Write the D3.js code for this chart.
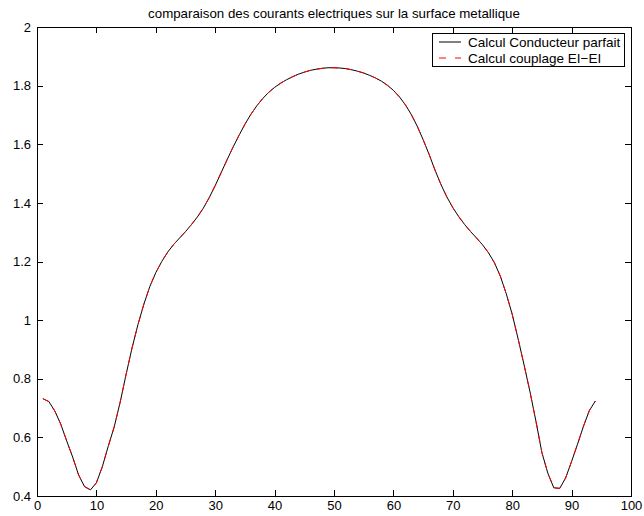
<!DOCTYPE html>
<html>
<head>
<meta charset="utf-8">
<script src="https://cdn.jsdelivr.net/npm/d3@7"></script>
<style>
  body { margin: 0; background: #fff; }
  text { font-family: "Liberation Sans", Arial, sans-serif; }
</style>
</head>
<body>
<div id="chart-container"></div>
<script>
var titre = "comparaison des courants electriques sur la surface metallique"
var nomsSeries = ["Calcul Conducteur parfait", "Calcul couplage EI\u2212EI"]
var xTicks = [0, 10, 20, 30, 40, 50, 60, 70, 80, 90, 100]
var yTicks = [0.4, 0.6, 0.8, 1, 1.2, 1.4, 1.6, 1.8, 2]
var yTickLabels = ["0.4", "0.6", "0.8", "1", "1.2", "1.4", "1.6", "1.8", "2"]

var indices = d3.range(1, 95)
var courantParfait = [
  0.732, 0.722, 0.690, 0.645, 0.588, 0.533, 0.472, 0.432, 0.421, 0.445,
  0.500, 0.570, 0.636, 0.720, 0.815, 0.905, 0.985, 1.055, 1.115, 1.162,
  1.200, 1.232, 1.258, 1.280, 1.302, 1.326, 1.352, 1.382, 1.418, 1.459,
  1.503, 1.547, 1.590, 1.630, 1.668, 1.702, 1.731, 1.756, 1.777, 1.794,
  1.808, 1.820, 1.830, 1.839, 1.846, 1.852, 1.856, 1.859, 1.861, 1.861,
  1.860, 1.858, 1.854, 1.849, 1.843, 1.835, 1.826, 1.815, 1.801, 1.784,
  1.762, 1.735, 1.702, 1.662, 1.616, 1.566, 1.512, 1.463, 1.420, 1.384,
  1.353, 1.326, 1.302, 1.280, 1.257, 1.230, 1.196, 1.150, 1.090, 1.020,
  0.936, 0.847, 0.755, 0.655, 0.548, 0.478, 0.428, 0.426, 0.462, 0.518,
  0.577, 0.638, 0.692, 0.724]
var courantCouplage = [
  0.732, 0.722, 0.690, 0.645, 0.588, 0.533, 0.472, 0.432, 0.421, 0.445,
  0.500, 0.570, 0.636, 0.720, 0.815, 0.905, 0.985, 1.055, 1.115, 1.162,
  1.200, 1.232, 1.258, 1.280, 1.302, 1.326, 1.352, 1.382, 1.418, 1.459,
  1.503, 1.547, 1.590, 1.630, 1.668, 1.702, 1.731, 1.756, 1.777, 1.794,
  1.808, 1.820, 1.830, 1.839, 1.846, 1.852, 1.856, 1.859, 1.861, 1.861,
  1.860, 1.858, 1.854, 1.849, 1.843, 1.835, 1.826, 1.815, 1.801, 1.784,
  1.762, 1.735, 1.702, 1.662, 1.616, 1.566, 1.512, 1.463, 1.420, 1.384,
  1.353, 1.326, 1.302, 1.280, 1.257, 1.230, 1.196, 1.150, 1.090, 1.020,
  0.936, 0.847, 0.755, 0.655, 0.548, 0.478, 0.428, 0.426, 0.462, 0.518,
  0.577, 0.638, 0.692, 0.724]

var W = 644, H = 516
var mLeft = 37, mRight = 631, mTop = 27, mBottom = 496

var svg = d3.select("#chart-container").append("svg").attr("width", W).attr("height", H)

var x = d3.scaleLinear().domain([0, 100]).range([mLeft, mRight])
var y = d3.scaleLinear().domain([0.4, 2]).range([mBottom, mTop])

function styleAxis(g) {
  g.selectAll("path, line").attr("stroke", "#000").attr("shape-rendering", "crispEdges")
  g.selectAll("text").attr("fill", "#000").style("font-size", "13px")
}

svg.append("g").attr("transform", "translate(0," + mBottom + ")")
  .call(d3.axisBottom(x).tickValues(xTicks).tickSize(-6).tickSizeOuter(0).tickPadding(5))
  .call(styleAxis)
svg.append("g").attr("transform", "translate(0," + mTop + ")")
  .call(d3.axisTop(x).tickValues(xTicks).tickSize(-6).tickSizeOuter(0).tickFormat(""))
  .call(styleAxis)
svg.append("g").attr("transform", "translate(" + mLeft + ",0)")
  .call(d3.axisLeft(y).tickValues(yTicks).tickSize(-6).tickSizeOuter(0).tickPadding(6)
    .tickFormat(function(d, i) { return yTickLabels[i] }))
  .call(styleAxis)
svg.append("g").attr("transform", "translate(" + mRight + ",0)")
  .call(d3.axisRight(y).tickValues(yTicks).tickSize(-6).tickSizeOuter(0).tickFormat(""))
  .call(styleAxis)

var line = d3.line().x(function(d) { return x(d[0]) }).y(function(d) { return y(d[1]) })

svg.append("path").datum(d3.zip(indices, courantParfait))
  .attr("d", line).attr("fill", "none").attr("stroke", "#000").attr("stroke-width", 1)
svg.append("path").datum(d3.zip(indices, courantCouplage))
  .attr("d", line).attr("fill", "none").attr("stroke", "#ff0000").attr("stroke-width", 1)
  .attr("stroke-dasharray", "7,7")

svg.append("text").attr("x", (mLeft + mRight) / 2).attr("y", 18)
  .attr("text-anchor", "middle").style("font-size", "13.3px").text(titre)

// legende
var leg = svg.append("g")
leg.append("rect").attr("x", 432.5).attr("y", 33.5).attr("width", 192).attr("height", 33)
  .attr("fill", "#fff").attr("stroke", "#000").attr("stroke-width", 1)
var styles = [{ c: "#000", d: null }, { c: "#ff0000", d: "7,9" }]
nomsSeries.forEach(function(nom, i) {
  var yy = 42 + i * 16
  leg.append("line").attr("x1", 439).attr("x2", 461).attr("y1", yy).attr("y2", yy)
    .attr("stroke", styles[i].c).attr("stroke-dasharray", styles[i].d)
  leg.append("text").attr("x", 468).attr("y", yy + 4.5).style("font-size", "13.5px").text(nom)
})
</script>
</body>
</html>
